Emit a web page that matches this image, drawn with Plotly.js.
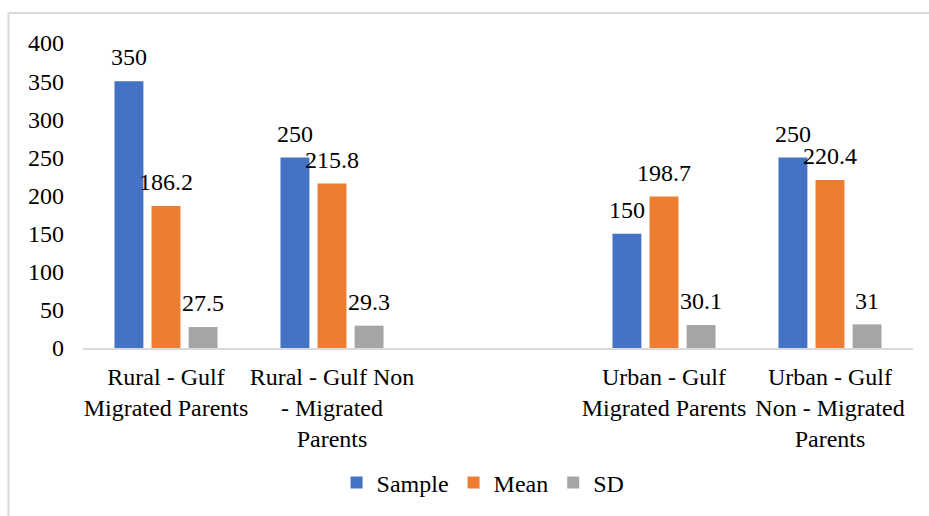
<!DOCTYPE html>
<html>
<head>
<meta charset="utf-8">
<script src="https://cdn.plot.ly/plotly-3.0.1.min.js"></script>
<style>html,body{margin:0;padding:0;background:#fff;}#chart{width:929px;height:516px;}</style>
</head>
<body>
<div id="chart"></div>
<script>
const categories = [
  'Rural - Gulf<br>Migrated Parents',
  'Rural - Gulf Non<br>- Migrated<br>Parents',
  ' ',
  'Urban - Gulf<br>Migrated Parents',
  'Urban - Gulf<br>Non - Migrated<br>Parents'
];
const seriesNames = ['Sample', 'Mean', 'SD'];
const sampleValues = [350, 250, null, 150, 250];
const meanValues = [186.2, 215.8, null, 198.7, 220.4];
const sdValues = [27.5, 29.3, null, 30.1, 31];
const yTicks = [0, 50, 100, 150, 200, 250, 300, 350, 400];
const colors = ['#4472C4', '#ED7D31', '#A5A5A5'];

const FONT = '"Liberation Serif", "Times New Roman", Times, serif';
const series = [sampleValues, meanValues, sdValues];
const data = [];
series.forEach(function (vals, i) {
  data.push({
    type: 'bar', name: seriesNames[i], x: categories, y: vals,
    marker: {color: colors[i]}, offsetgroup: String(i), hoverinfo: 'skip'
  });
});
series.forEach(function (vals, i) {
  data.push({
    type: 'scatter', mode: 'markers+text', name: seriesNames[i] + ' label', showlegend: false,
    x: categories, y: vals, text: vals.map(function (v) { return v === null ? '' : String(v); }),
    textposition: 'top center', cliponaxis: false, offsetgroup: String(i),
    marker: {size: 14, opacity: 0, color: colors[i]},
    textfont: {family: FONT, size: 24, color: '#000'}, hoverinfo: 'skip'
  });
});
const layout = {
  width: 929, height: 516,
  margin: {l: 83, r: 16, t: 43, b: 168},
  paper_bgcolor: '#fff', plot_bgcolor: '#fff',
  font: {family: FONT, size: 24, color: '#000'},
  barmode: 'group', bargap: 0.33, bargroupgap: 0.22,
  scattermode: 'group', scattergap: 0.33,
  showlegend: true,
  legend: {orientation: 'h', x: 0.482, xanchor: 'center', yref: 'container', y: 0.064, yanchor: 'middle',
           font: {family: FONT, size: 24, color: '#000'}, traceorder: 'normal'},
  xaxis: {
    type: 'category', categoryorder: 'array', categoryarray: categories,
    range: [-0.5, 4.5], showgrid: false, zeroline: false,
    showline: true, linecolor: '#d9d9d9', linewidth: 2,
    ticks: '', ticklabelstandoff: 6, tickangle: 0,
    tickfont: {family: FONT, size: 24, color: '#000'}
  },
  yaxis: {
    range: [0, 400], tickvals: yTicks, showgrid: false, zeroline: false,
    showline: false, ticks: '', ticklabelstandoff: 18,
    tickfont: {family: FONT, size: 24, color: '#000'}
  },
  shapes: [
    {type: 'line', xref: 'paper', yref: 'paper', x0: -0.0898, x1: 1.03, y0: 1.098, y1: 1.098, line: {color: '#d9d9d9', width: 2}},
    {type: 'line', xref: 'paper', yref: 'paper', x0: -0.0898, x1: -0.0898, y0: 1.098, y1: -0.56, line: {color: '#d9d9d9', width: 2}}
  ]
};
Plotly.newPlot('chart', data, layout, {displayModeBar: false, staticPlot: true});
</script>
</body>
</html>
